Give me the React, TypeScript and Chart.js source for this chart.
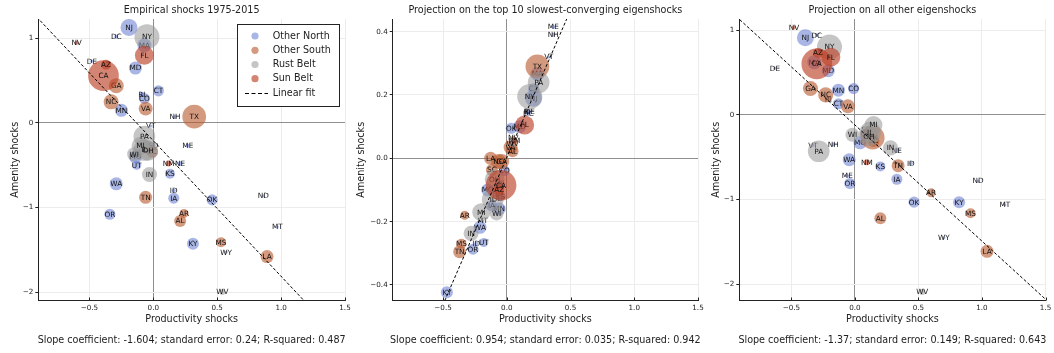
import React, { useEffect, useRef } from 'react';
import { Chart, registerables } from 'chart.js';
Chart.register(...registerables);

const FONT = '"DejaVu Sans", sans-serif';
Chart.defaults.font.family = FONT;
Chart.defaults.color = '#222';

// ---------------- data ----------------
const STATES = ['NJ','DC','NY','MA','NV','FL','DE','AZ','CA','MD','GA','CT','RI','CO','NC','VA','MN','NH','TX','VT','PA','MI','SD','IL','OH','SC','WI','MO','UT','NM','NE','ME','IN','KS','WA','TN','ID','IA','OR','AR','AL','OK','ND','MT','KY','MS','WY','LA','WV'];
const GROUPS = ['Other North', 'Other South', 'Rust Belt', 'Sun Belt'];
// 0 Other North, 1 Other South, 2 Rust Belt, 3 Sun Belt
const STATE_GROUP = [0,0,2,0,3,3,0,3,3,0,1,0,0,0,1,1,0,0,1,0,2,2,0,2,2,1,2,0,0,3,0,0,2,0,0,1,0,0,0,1,1,0,0,0,0,1,0,1,2];
// marker weight (population-like, millions)
const WEIGHT = [9.2,0.5,20,6.2,0.5,11.5,0.3,3.2,30,5.4,7.2,3.9,0.8,3.9,7.2,6.2,5.4,0.5,18,0.3,15,10.3,0.5,15,12.5,4.6,6.2,5.4,2.6,1.15,0.8,0.5,7.2,3.2,5.4,5.4,0.5,3.9,3.9,2.6,4.6,3.9,0.3,0.3,4.6,3.2,0.3,5.4,1.15];

// Panel 1: empirical shocks
const EMP_X = [-0.19,-0.29,-0.05,-0.07,-0.60,-0.07,-0.48,-0.37,-0.39,-0.14,-0.29,0.04,-0.09,-0.07,-0.33,-0.06,-0.25,0.17,0.32,-0.02,-0.07,-0.10,0.0,-0.07,-0.04,-0.01,-0.15,-0.14,-0.13,0.12,0.21,0.27,-0.03,0.13,-0.29,-0.06,0.16,0.16,-0.34,0.24,0.21,0.46,0.86,0.97,0.31,0.53,0.57,0.89,0.54];
const EMP_Y = [1.13,1.02,1.02,0.92,0.95,0.80,0.73,0.69,0.56,0.65,0.44,0.38,0.34,0.29,0.25,0.17,0.15,0.07,0.075,-0.035,-0.16,-0.27,-0.27,-0.32,-0.33,-0.34,-0.37,-0.40,-0.50,-0.48,-0.48,-0.27,-0.61,-0.60,-0.72,-0.88,-0.80,-0.89,-1.08,-1.07,-1.16,-0.91,-0.86,-1.23,-1.43,-1.41,-1.53,-1.58,-2.00];

// Panel 2: projection on top 10 slowest-converging eigenshocks
const TOP_X = [0.21,0.17,0.18,0.24,0.05,0.14,0.18,-0.06,-0.045,0.10,-0.04,0.21,0.16,-0.02,-0.065,0.03,-0.06,0.365,0.24,0.33,0.25,-0.20,-0.07,-0.11,-0.095,-0.117,-0.08,-0.15,-0.18,0.06,-0.057,0.365,-0.28,-0.05,-0.21,-0.37,-0.24,-0.12,-0.265,-0.33,0.045,0.035,-0.07,-0.19,-0.47,-0.356,-0.06,-0.127,0.045];
const TOP_Y = [0.19,0.14,0.195,0.266,0.065,0.105,0.146,-0.10,-0.085,0.10,-0.01,0.22,0.146,-0.039,-0.01,0.035,-0.16,0.39,0.29,0.32,0.24,-0.17,-0.126,-0.13,-0.066,-0.037,-0.174,-0.10,-0.266,0.055,-0.08,0.415,-0.237,-0.12,-0.218,-0.295,-0.268,-0.15,-0.287,-0.18,0.022,0.095,-0.11,-0.198,-0.423,-0.27,-0.09,0.0,0.045];

// Panel 3: projection on all other eigenshocks
const OTH_X = [-0.39,-0.30,-0.20,-0.32,-0.48,-0.19,-0.63,-0.29,-0.30,-0.21,-0.35,-0.13,-0.21,-0.01,-0.23,-0.055,-0.13,-0.17,0.14,-0.33,-0.285,0.146,0.09,0.12,0.11,0.146,-0.02,0.04,0.08,0.094,0.33,-0.06,0.28,0.20,-0.045,0.34,0.44,0.33,-0.04,0.60,0.20,0.465,0.97,1.18,0.82,0.91,0.70,1.04,0.53];
const OTH_Y = [0.91,0.94,0.80,0.62,1.03,0.68,0.55,0.73,0.60,0.52,0.31,0.13,0.185,0.31,0.235,0.10,0.29,-0.35,-0.27,-0.36,-0.43,-0.12,-0.18,-0.21,-0.255,-0.31,-0.235,-0.33,-0.22,-0.56,-0.42,-0.72,-0.39,-0.61,-0.53,-0.60,-0.57,-0.76,-0.81,-0.92,-1.22,-1.03,-0.78,-1.06,-1.03,-1.16,-1.45,-1.61,-2.09];

const FIT_SLOPE = [-1.604, 0.93, -1.37];
const FIT_INTERCEPT = [-0.21, 0.003, -0.12];

const X_TICKS = [-0.5, 0, 0.5, 1, 1.5];
const Y_TICKS_EMP = [-2, -1, 0, 1];
const Y_TICKS_TOP = [-0.4, -0.2, 0, 0.2, 0.4];
const Y_TICKS_OTH = [-2, -1, 0, 1];

const TITLES = ['Empirical shocks 1975-2015', 'Projection on the top 10 slowest-converging eigenshocks', 'Projection on all other eigenshocks'];
const FOOTERS = [
  'Slope coefficient: -1.604; standard error: 0.24; R-squared: 0.487',
  'Slope coefficient: 0.954; standard error: 0.035; R-squared: 0.942',
  'Slope coefficient: -1.37; standard error: 0.149; R-squared: 0.643',
];
const X_TITLE = 'Productivity shocks';
const Y_TITLE = 'Amenity shocks';
const FIT_LABEL = 'Linear fit';

// ---------------- styles ----------------
const GROUP_COLORS = ['rgba(105,128,210,0.58)', 'rgba(185,92,48,0.62)', 'rgba(150,150,150,0.55)', 'rgba(188,68,42,0.66)'];
const radiusOf = (w: number) => 2.8 * Math.sqrt(w);
const fmt = (v: number, d: number) => (v < -1e-9 ? '\u2212' : '') + Math.abs(v).toFixed(d);

type PanelCfg = {
  xs: number[]; ys: number[]; yTicks: number[]; yDec: number;
  xMin: number; yMin: number; yMax: number;
  title: string; footer: string; slope: number; intercept: number;
  legend: boolean; left: number; width: number; yW: number; padR: number; yTitleX: number;
};

const PANELS: PanelCfg[] = [
  { xs: EMP_X, ys: EMP_Y, yTicks: Y_TICKS_EMP, yDec: 0, xMin: -0.9, yMin: -2.1, yMax: 1.23, title: TITLES[0], footer: FOOTERS[0], slope: FIT_SLOPE[0], intercept: FIT_INTERCEPT[0], legend: true, left: 0, width: 351, yW: 38.3, padR: 6, yTitleX: 15 },
  { xs: TOP_X, ys: TOP_Y, yTicks: Y_TICKS_TOP, yDec: 1, xMin: -0.895, yMin: -0.449, yMax: 0.44, title: TITLES[1], footer: FOOTERS[1], slope: FIT_SLOPE[1], intercept: FIT_INTERCEPT[1], legend: false, left: 351, width: 358, yW: 41.7, padR: 11, yTitleX: 10 },
  { xs: OTH_X, ys: OTH_Y, yTicks: Y_TICKS_OTH, yDec: 0, xMin: -0.91, yMin: -2.19, yMax: 1.13, title: TITLES[2], footer: FOOTERS[2], slope: FIT_SLOPE[2], intercept: FIT_INTERCEPT[2], legend: false, left: 702, width: 352, yW: 37.3, padR: 8.5, yTitleX: 14 },
];

function makeDecor(p: PanelCfg) {
  return {
    id: 'decor',
    afterDatasetDraw(chart: any, args: any) {
      const ds = chart.data.datasets[args.index];
      if (ds.type !== 'bubble') return;
      const ctx = chart.ctx;
      ctx.save();
      ctx.font = `7.3px ${FONT}`;
      ctx.fillStyle = '#111';
      ctx.textAlign = 'center';
      ctx.textBaseline = 'middle';
      args.meta.data.forEach((el: any, i: number) => ctx.fillText(ds.data[i].label, el.x, el.y + 0.5));
      ctx.restore();
    },
    afterDraw(chart: any) {
      const ctx = chart.ctx;
      const a = chart.chartArea;
      const cx = (a.left + a.right) / 2;
      ctx.save();
      ctx.strokeStyle = '#222';
      ctx.lineWidth = 1;
      const xs = chart.scales.x;
      X_TICKS.forEach((v) => {
        const px = Math.round(xs.getPixelForValue(v)) + 0.5;
        ctx.beginPath(); ctx.moveTo(px, a.bottom); ctx.lineTo(px, a.bottom - 3); ctx.stroke();
      });
      ctx.fillStyle = '#222';
      ctx.font = `9.6px ${FONT}`;
      ctx.textAlign = 'center';
      ctx.textBaseline = 'middle';
      ctx.fillText(p.title, cx, 10);
      ctx.fillText(X_TITLE, cx, 319.5);
      ctx.fillText(p.footer, cx, 340.5);
      ctx.save();
      ctx.translate(p.yTitleX, (a.top + a.bottom) / 2);
      ctx.rotate(-Math.PI / 2);
      ctx.fillText(Y_TITLE, 0, 0);
      ctx.restore();
      if (p.legend) {
        ctx.fillStyle = '#fff';
        ctx.fillRect(237.5, 24.5, 102, 82);
        ctx.strokeStyle = '#222';
        ctx.strokeRect(237.5, 24.5, 102, 82);
        const ys = [36, 50.3, 64.5, 78.7, 93];
        GROUPS.forEach((g, gi) => {
          ctx.beginPath();
          ctx.arc(255, ys[gi], 3.6, 0, Math.PI * 2);
          ctx.fillStyle = GROUP_COLORS[gi];
          ctx.fill();
          ctx.fillStyle = '#222';
          ctx.textAlign = 'left';
          ctx.fillText(g, 272.7, ys[gi]);
        });
        ctx.beginPath();
        ctx.setLineDash([4, 2.5]);
        ctx.moveTo(245, 93.5); ctx.lineTo(268, 93.5);
        ctx.strokeStyle = '#000';
        ctx.stroke();
        ctx.setLineDash([]);
        ctx.fillText(FIT_LABEL, 272.7, ys[4]);
      }
      ctx.restore();
    },
  };
}

function buildConfig(p: PanelCfg): any {
  const datasets: any[] = GROUPS.map((name, gi) => ({
    type: 'bubble',
    label: name,
    order: 10 - gi,
    data: STATES.map((s, i) => ({ x: p.xs[i], y: p.ys[i], r: radiusOf(WEIGHT[i]), label: s, g: STATE_GROUP[i] })).filter((d) => d.g === gi),
    backgroundColor: GROUP_COLORS[gi],
    borderColor: 'rgba(0,0,0,0)',
    borderWidth: 0,
    hoverBorderWidth: 0,
  }));
  datasets.push({
    type: 'line',
    label: FIT_LABEL,
    order: 0,
    data: [p.xMin - 0.2, 1.7].map((x) => ({ x, y: p.intercept + p.slope * x })),
    borderColor: '#000',
    borderWidth: 1,
    borderDash: [3, 2],
    pointRadius: 0,
    fill: false,
    tension: 0,
  });
  const gridColor = (ctx: any) => (ctx.tick && Math.abs(ctx.tick.value) < 1e-9 ? '#8f8f8f' : '#ececec');
  return {
    type: 'bubble',
    data: { datasets },
    options: {
      animation: false,
      responsive: false,
      devicePixelRatio: 1,
      events: [],
      layout: { autoPadding: false, padding: { left: 0, right: p.padR, top: 19, bottom: 18.5 } },
      plugins: { legend: { display: false }, tooltip: { enabled: false }, title: { display: false } },
      scales: {
        x: {
          type: 'linear', min: p.xMin, max: 1.5,
          afterBuildTicks: (s: any) => { s.ticks = X_TICKS.map((v) => ({ value: v })); },
          afterFit: (s: any) => { s.height = 34; s.paddingLeft = 0; s.paddingRight = 0; },
          grid: { color: gridColor, drawTicks: false, lineWidth: 1 },
          border: { color: '#222', width: 1 },
          ticks: { padding: 3, font: { size: 7.2 }, color: '#222', maxRotation: 0, autoSkip: false, callback: (v: any) => fmt(Number(v), 1) },
        },
        y: {
          type: 'linear', min: p.yMin, max: p.yMax,
          afterBuildTicks: (s: any) => { s.ticks = p.yTicks.map((v) => ({ value: v })); },
          afterFit: (s: any) => { s.width = p.yW; s.paddingTop = 0; s.paddingBottom = 0; },
          grid: { color: gridColor, drawTicks: true, tickLength: 3, tickColor: '#222', lineWidth: 1 },
          border: { color: '#222', width: 1 },
          ticks: { padding: 2, font: { size: 7.2 }, color: '#222', autoSkip: false, callback: (v: any) => fmt(Number(v), p.yDec) },
        },
      },
    },
    plugins: [makeDecor(p)],
  };
}

function Panel({ cfg }: { cfg: PanelCfg }) {
  const ref = useRef<HTMLCanvasElement>(null);
  useEffect(() => {
    const chart = new Chart(ref.current as HTMLCanvasElement, buildConfig(cfg));
    return () => chart.destroy();
  }, [cfg]);
  return (
    <canvas
      ref={ref}
      width={cfg.width}
      height={353}
      style={{ position: 'absolute', left: cfg.left, top: 0, width: cfg.width, height: 353 }}
    />
  );
}

export default function App() {
  return (
    <div style={{ position: 'fixed', left: 0, top: 0, width: 1054, height: 353, background: '#fff', overflow: 'hidden' }}>
      {PANELS.map((p, i) => (
        <Panel key={i} cfg={p} />
      ))}
    </div>
  );
}
